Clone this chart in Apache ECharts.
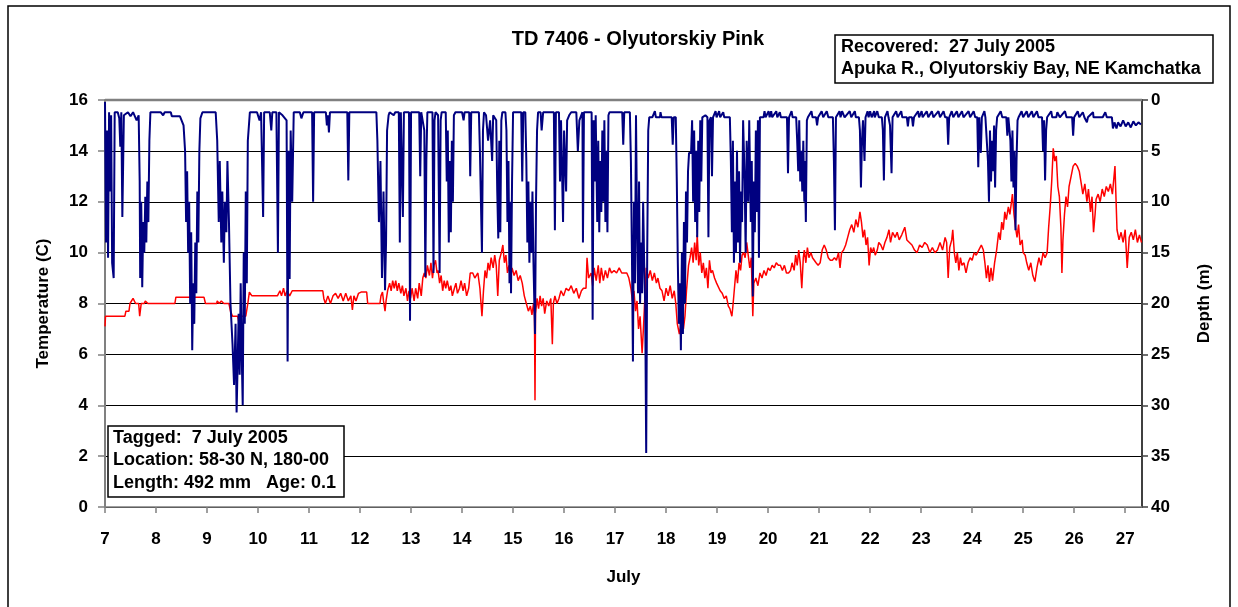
<!DOCTYPE html>
<html><head><meta charset="utf-8">
<script src="https://cdn.jsdelivr.net/npm/echarts@6/dist/echarts.min.js"></script>
<style>html,body{margin:0;padding:0;background:#fff}#c{width:1238px;height:607px}</style>
</head><body><div id="c"></div>
<script>
const titleText = 'TD 7406 - Olyutorskiy Pink';
const recoveredLines = ['Recovered:  27 July 2005', 'Apuka R., Olyutorskiy Bay, NE Kamchatka'];
const taggedLines = ['Tagged:  7 July 2005', 'Location: 58-30 N, 180-00', 'Length: 492 mm   Age: 0.1'];
const xAxisName = 'July';
const tempAxisName = 'Temperature (C)';
const depthAxisName = 'Depth (m)';

// [day of July, temperature C]
const tempPoints = [
[7.00,7.1],[7.01,7.5],[7.39,7.5],[7.41,7.7],[7.47,7.7],[7.49,8.0],[7.55,8.2],[7.60,8.0],[7.66,8.0],[7.68,7.5],[7.71,8.0],[7.77,8.0],[7.79,8.1],[7.84,8.0],
[8.37,8.0],[8.39,8.25],[8.94,8.25],[8.97,8.0],[9.19,8.0],[9.20,8.1],[9.24,8.0],[9.28,8.1],[9.33,8.0],[9.43,8.0],[9.46,7.7],[9.50,7.5],[9.60,7.5],[9.63,7.2],[9.66,7.5],[9.76,7.5],[9.80,8.0],[9.83,8.45],[9.88,8.3],
[10.38,8.3],[10.43,8.5],[10.46,8.3],[10.50,8.6],[10.53,8.3],[10.57,8.5],[10.62,8.3],[10.67,8.5],[11.27,8.5],[11.29,8.2],[11.32,8.0],[11.37,8.3],[11.42,8.0],[11.47,8.3],[11.52,8.4],[11.57,8.2],[11.62,8.4],[11.67,8.1],[11.72,8.4],[11.77,8.1],[11.82,8.3],[11.85,7.75],[11.88,8.3],[11.92,8.1],[11.97,8.4],
[12.02,8.45],[12.13,8.45],[12.15,8.0],[12.39,8.0],[12.41,8.3],[12.44,8.45],[12.46,8.1],[12.49,7.7],[12.51,8.1],[12.54,8.5],[12.58,8.8],[12.61,8.5],[12.64,8.9],[12.67,8.6],[12.70,8.9],[12.73,8.5],[12.76,8.8],[12.80,8.4],[12.83,8.7],[12.86,8.3],[12.90,8.6],[12.93,8.1],[12.96,8.5],[12.99,8.2],
[13.02,8.6],[13.06,8.1],[13.09,8.6],[13.13,8.2],[13.16,8.8],[13.20,8.3],[13.23,9.0],[13.26,9.2],[13.29,9.0],[13.32,9.5],[13.36,9.1],[13.39,9.6],[13.42,9.0],[13.45,9.5],[13.48,9.7],[13.51,9.2],[13.53,9.3],[13.56,8.8],[13.59,9.1],[13.62,8.5],[13.65,8.9],[13.68,8.6],[13.71,8.9],[13.75,8.5],[13.78,8.7],[13.81,8.3],[13.85,8.6],[13.88,8.8],[13.91,8.4],[13.95,8.6],[13.98,8.9],
[14.02,8.5],[14.05,8.8],[14.09,8.3],[14.13,8.6],[14.16,9.2],[14.21,9.2],[14.25,9.0],[14.31,9.2],[14.35,8.6],[14.39,7.5],[14.42,8.5],[14.45,9.3],[14.48,9.0],[14.51,9.6],[14.54,9.3],[14.57,9.8],[14.61,9.4],[14.64,9.9],[14.67,9.5],[14.70,8.3],[14.73,9.7],[14.77,10.0],[14.80,10.3],[14.83,9.6],[14.86,9.9],[14.89,9.2],[14.92,9.5],[14.95,9.0],[14.98,9.4],
[15.02,9.1],[15.06,9.3],[15.10,8.9],[15.14,9.1],[15.18,8.8],[15.22,8.3],[15.26,8.0],[15.30,7.7],[15.34,7.9],[15.37,7.55],[15.40,8.0],[15.42,7.5],[15.43,4.2],[15.44,7.6],[15.47,8.2],[15.50,7.8],[15.53,8.3],[15.56,7.9],[15.59,8.2],[15.62,7.6],[15.66,8.1],[15.70,7.9],[15.74,8.2],[15.77,6.4],[15.79,8.0],[15.82,8.3],[15.86,8.0],[15.90,8.2],[15.94,8.5],[15.99,8.3],
[16.04,8.6],[16.09,8.5],[16.14,8.7],[16.19,8.4],[16.24,8.6],[16.29,8.2],[16.34,8.5],[16.38,8.6],[16.43,8.6],[16.45,9.8],[16.48,9.0],[16.53,9.2],[16.56,8.7],[16.59,9.4],[16.63,8.9],[16.67,9.5],[16.70,8.8],[16.73,9.4],[16.77,8.9],[16.81,9.3],[16.85,9.0],[16.89,9.4],[16.93,9.2],[16.98,9.3],
[17.03,9.2],[17.08,9.4],[17.13,9.2],[17.18,9.2],[17.23,9.2],[17.27,9.0],[17.31,8.6],[17.34,8.1],[17.37,8.5],[17.40,7.7],[17.43,8.1],[17.46,7.0],[17.49,7.5],[17.53,6.05],[17.56,7.2],[17.59,8.5],[17.61,9.4],[17.65,9.0],[17.69,9.3],[17.73,8.9],[17.77,9.2],[17.81,8.8],[17.84,9.0],[17.88,8.6],[17.92,8.5],[17.96,8.1],
[18.00,8.6],[18.04,8.3],[18.08,8.7],[18.12,8.2],[18.16,8.5],[18.19,8.0],[18.22,7.2],[18.26,6.8],[18.30,7.3],[18.34,7.0],[18.37,7.5],[18.40,8.5],[18.44,9.5],[18.47,9.8],[18.50,10.2],[18.53,9.6],[18.56,10.4],[18.59,9.7],[18.61,10.7],[18.64,9.5],[18.67,10.0],[18.70,9.2],[18.73,9.6],[18.76,9.0],[18.79,9.4],[18.82,8.6],[18.85,9.7],[18.88,9.2],[18.91,9.3],[18.95,9.0],[18.99,8.8],
[19.02,8.8],[19.06,8.5],[19.10,8.4],[19.14,8.2],[19.18,8.3],[19.22,7.9],[19.25,7.8],[19.29,7.5],[19.31,7.9],[19.34,8.6],[19.37,9.3],[19.40,8.8],[19.43,9.6],[19.46,9.3],[19.49,9.9],[19.52,10.0],[19.55,9.8],[19.58,10.4],[19.61,9.9],[19.64,9.4],[19.67,9.8],[19.70,7.5],[19.72,8.8],[19.76,9.0],[19.80,8.7],[19.84,9.2],[19.88,9.0],[19.92,9.3],[19.96,9.1],
[20.00,9.4],[20.04,9.3],[20.08,9.5],[20.12,9.4],[20.16,9.6],[20.20,9.5],[20.24,9.5],[20.28,9.3],[20.32,9.5],[20.36,9.2],[20.40,9.2],[20.44,9.3],[20.47,9.6],[20.51,9.3],[20.54,9.9],[20.57,9.5],[20.60,10.1],[20.63,9.6],[20.66,8.6],[20.69,9.8],[20.71,10.1],[20.74,9.6],[20.77,10.2],[20.80,9.8],[20.84,10.0],[20.87,9.8],[20.90,9.8],[20.94,9.6],[20.98,9.5],
[21.02,9.6],[21.06,10.1],[21.10,10.3],[21.14,10.1],[21.18,9.8],[21.22,9.7],[21.26,9.7],[21.30,9.8],[21.34,9.7],[21.38,10.0],[21.41,9.4],[21.44,10.0],[21.48,10.1],[21.52,10.3],[21.56,10.6],[21.60,10.9],[21.64,11.1],[21.68,10.8],[21.72,11.3],[21.76,11.0],[21.80,11.6],[21.83,11.2],[21.86,10.6],[21.89,10.9],[21.92,10.3],[21.95,10.6],[21.98,9.5],
[22.01,10.2],[22.04,10.0],[22.07,10.2],[22.10,9.9],[22.14,10.1],[22.17,10.4],[22.21,10.3],[22.25,10.1],[22.29,10.4],[22.33,10.6],[22.37,10.9],[22.40,10.4],[22.44,10.8],[22.49,10.6],[22.53,10.8],[22.57,10.5],[22.62,10.7],[22.68,11.0],[22.72,10.5],[22.77,10.4],[22.82,10.3],[22.87,10.1],[22.92,10.0],[22.97,10.3],
[23.02,10.2],[23.07,10.4],[23.12,10.3],[23.17,10.0],[23.22,10.2],[23.27,10.0],[23.32,10.1],[23.37,10.4],[23.42,10.1],[23.47,10.6],[23.50,10.4],[23.53,9.0],[23.56,10.2],[23.60,10.5],[23.62,10.9],[23.65,10.0],[23.68,9.6],[23.71,10.0],[23.74,9.3],[23.77,9.8],[23.80,9.5],[23.84,9.6],[23.88,9.2],[23.92,9.6],[23.96,9.8],
[24.00,9.7],[24.04,10.0],[24.08,9.9],[24.13,10.1],[24.18,10.3],[24.22,10.1],[24.25,9.6],[24.28,9.0],[24.31,9.5],[24.34,8.85],[24.37,9.4],[24.40,8.9],[24.44,9.6],[24.48,10.1],[24.52,10.8],[24.55,10.5],[24.58,11.2],[24.61,10.9],[24.64,11.6],[24.67,11.3],[24.71,11.8],[24.74,11.5],[24.79,12.3],[24.82,11.5],[24.85,11.0],[24.88,10.6],[24.91,11.1],[24.94,10.3],[24.98,10.5],
[25.00,10.0],[25.04,9.9],[25.07,9.6],[25.11,9.3],[25.15,9.6],[25.19,9.1],[25.23,8.86],[25.27,9.4],[25.31,9.8],[25.35,9.5],[25.39,10.0],[25.43,9.8],[25.47,10.0],[25.50,11.0],[25.53,11.8],[25.56,12.8],[25.59,14.1],[25.62,13.6],[25.65,13.8],[25.68,12.6],[25.71,12.2],[25.74,11.0],[25.76,9.2],[25.78,10.5],[25.81,11.5],[25.84,12.2],[25.87,11.8],[25.90,12.6],[25.94,13.0],[25.98,13.4],
[26.02,13.5],[26.06,13.4],[26.10,13.2],[26.14,12.7],[26.17,12.3],[26.21,12.7],[26.25,12.0],[26.28,12.5],[26.32,11.6],[26.35,12.2],[26.38,10.8],[26.41,11.5],[26.43,12.1],[26.47,12.3],[26.51,12.0],[26.55,12.5],[26.59,12.2],[26.63,12.6],[26.67,12.4],[26.71,12.7],[26.75,12.3],[26.80,13.4],[26.84,10.9],[26.88,10.5],[26.92,10.8],[26.96,10.4],
[27.00,10.9],[27.04,9.4],[27.08,10.6],[27.12,10.8],[27.16,10.5],[27.20,10.9],[27.24,10.4],[27.28,10.7],[27.32,10.4]
];

// [day of July, depth m]
const depthPoints = [
[7.00,0.2],[7.02,14],[7.04,3],[7.06,15.5],[7.08,1.2],[7.10,9],[7.12,1.5],[7.14,16],[7.17,17.5],[7.19,1.2],[7.25,1.2],[7.28,1.8],[7.30,4.6],[7.32,1.2],[7.34,11.5],[7.37,1.5],[7.45,1.2],[7.50,1.6],[7.55,1.2],[7.62,2.0],[7.66,1.5],[7.68,8],
[7.69,17.5],[7.71,10],[7.73,18.4],[7.75,12],[7.77,15],[7.79,9.5],[7.81,14],[7.83,8],[7.85,12],[7.87,4],[7.89,1.2],[8.09,1.2],[8.14,1.5],[8.17,1.2],[8.29,1.2],[8.31,1.6],[8.47,1.6],[8.54,2.5],[8.57,5],[8.59,12],[8.61,7],[8.63,15],[8.65,10],[8.67,20],[8.69,13],[8.71,24.6],[8.73,18],[8.75,22],[8.77,14],[8.79,19],[8.81,9],[8.83,14],[8.85,5],[8.87,1.8],[8.91,1.2],[9.17,1.2],
[9.20,4],[9.23,12],[9.25,6],[9.28,14],[9.30,9],[9.33,16],[9.35,10],[9.38,13],[9.40,6],[9.43,12],[9.46,20],[9.50,24],[9.53,28],[9.56,22],[9.58,30.7],[9.60,26],[9.62,21],[9.64,27],[9.66,18],[9.68,25],[9.70,30],[9.72,15],[9.74,22],[9.76,9],[9.78,18],[9.80,4],[9.84,1.2],[9.98,1.2],
[10.03,2],[10.06,1.2],[10.10,11.5],[10.12,1.2],[10.23,1.2],[10.26,3],[10.28,1.2],[10.36,1.2],[10.39,15],[10.41,1.2],[10.48,1.5],[10.56,2],[10.58,25.7],[10.60,5],[10.62,17.6],[10.64,3],[10.67,10],[10.70,1.2],[10.82,1.2],[10.85,1.8],[10.89,1.2],
[11.06,1.2],[11.08,10],[11.10,1.2],[11.33,1.2],[11.35,2.5],[11.37,1.5],[11.39,3.2],[11.41,1.2],[11.75,1.2],[11.77,7.9],[11.79,1.2],
[12.32,1.2],[12.34,4],[12.37,12],[12.40,6],[12.43,17.5],[12.46,9],[12.49,18.7],[12.51,14],[12.53,3],[12.56,1.5],[12.58,1.2],[12.66,1.5],[12.69,1.2],[12.76,1.2],[12.78,14],[12.80,1.2],[12.84,11.5],[12.86,1.2],[12.96,1.2],[12.98,21.7],
[13.00,1.2],[13.16,1.2],[13.18,7.5],[13.20,1.2],[13.26,3],[13.28,17.4],[13.30,6],[13.32,1.2],[13.42,1.2],[13.44,17],[13.46,2],[13.48,1.2],[13.53,1.5],[13.56,17],[13.58,2],[13.60,1.2],[13.68,1.2],[13.70,8],[13.72,3],[13.74,14],[13.76,6],[13.78,13],[13.80,4],[13.82,10],[13.84,1.5],[13.87,1.2],
[14.00,1.2],[14.03,2],[14.05,1.2],[14.14,1.2],[14.16,7.5],[14.18,1.2],[14.33,1.2],[14.35,5],[14.37,10],[14.39,15],[14.41,3],[14.43,1.2],[14.47,1.5],[14.51,4],[14.55,2],[14.59,6],[14.61,1.5],[14.67,2],[14.69,9],[14.71,13.6],[14.73,4],[14.75,13],[14.77,2],[14.79,1.2],[14.85,1.2],[14.87,3],[14.89,12],[14.91,6],[14.93,18],[14.95,10],[14.96,19],[14.98,8],
[15.00,1.2],[15.16,1.2],[15.18,8],[15.20,1.2],[15.24,1.2],[15.26,6],[15.28,14],[15.30,8],[15.32,16],[15.34,10],[15.36,15],[15.38,9],[15.40,16],[15.43,23],[15.45,10],[15.47,3],[15.49,1.2],[15.54,1.2],[15.56,3],[15.59,1.2],[15.80,1.2],[15.82,12.8],[15.84,1.2],[15.90,1.2],[15.92,8],[15.94,2],[15.98,12],
[16.00,3],[16.04,9],[16.06,2],[16.10,1.5],[16.14,1.2],[16.24,1.2],[16.27,5],[16.30,2],[16.36,1.2],[16.37,14],[16.39,1.2],[16.54,1.2],[16.56,21.6],[16.58,2],[16.60,8],[16.62,1.5],[16.65,12],[16.67,4],[16.69,13],[16.71,6],[16.73,11],[16.75,3],[16.77,10],[16.79,2],[16.81,12],[16.83,5],[16.85,13],[16.87,1.5],[16.89,1.2],
[17.14,1.2],[17.16,4.4],[17.18,1.2],[17.29,1.2],[17.31,6],[17.33,15],[17.35,25.7],[17.37,10],[17.39,18],[17.41,1.5],[17.43,12],[17.45,19],[17.47,8],[17.49,20],[17.51,14],[17.53,19],[17.55,10],[17.57,16],[17.59,20],[17.61,34.7],[17.63,15],[17.65,3],[17.67,1.7],[17.73,1.7],[17.78,1.1],[17.80,1.7],[17.88,1.7],[17.89,1.2],[17.91,1.7],
[18.11,1.7],[18.13,4.4],[18.15,1.7],[18.19,1.7],[18.21,8],[18.23,16],[18.25,22],[18.27,18],[18.29,24.6],[18.31,15],[18.33,23],[18.35,12],[18.37,20],[18.39,9],[18.41,14],[18.43,7],[18.45,5.2],[18.49,5.2],[18.51,2],[18.53,10],[18.55,3],[18.57,12],[18.59,5],[18.61,13.5],[18.63,4],[18.65,11],[18.67,2],[18.69,8],[18.71,1.7],[18.77,1.5],[18.81,1.7],[18.83,13.5],[18.85,2],[18.88,1.7],[18.90,7.5],[18.92,1.7],[18.97,1.1],[18.99,1.7],
[19.04,1.1],[19.06,1.7],[19.12,1.2],[19.14,1.7],[19.25,1.7],[19.27,6],[19.29,13],[19.31,4],[19.33,16],[19.35,8],[19.37,15],[19.39,5],[19.41,14],[19.43,7],[19.45,16],[19.47,9],[19.49,12],[19.51,2],[19.54,8],[19.56,15],[19.58,4],[19.61,10],[19.63,2],[19.66,12],[19.68,6],[19.70,19.3],[19.72,8],[19.74,13],[19.76,3],[19.78,11],[19.80,2],[19.82,15.5],[19.84,1.7],[19.91,1.7],[19.93,1.1],[19.95,1.7],
[20.01,1.1],[20.03,1.7],[20.06,1.1],[20.08,1.7],[20.16,1.1],[20.18,1.7],[20.23,1.2],[20.25,1.7],[20.37,1.7],[20.39,7.2],[20.41,1.7],[20.46,1.1],[20.48,1.7],[20.55,1.7],[20.57,4],[20.59,7],[20.61,2],[20.63,8],[20.65,5],[20.67,9],[20.69,4],[20.71,10],[20.72,6],[20.74,12],[20.76,2],[20.78,1.7],[20.85,1.1],[20.87,1.7],[20.94,1.7],[20.96,2.5],[20.98,1.7],
[21.05,1.1],[21.08,1.7],[21.15,1.1],[21.18,1.7],[21.27,1.7],[21.29,6],[21.31,12.8],[21.33,1.7],[21.40,1.1],[21.42,1.7],[21.45,1.1],[21.50,1.7],[21.60,1.1],[21.63,1.7],[21.70,1.1],[21.72,1.7],[21.78,1.7],[21.80,3],[21.82,8.6],[21.84,4],[21.86,2],[21.89,6],[21.91,1.7],[21.95,1.1],[21.97,1.7],
[22.00,1.1],[22.03,1.7],[22.08,1.1],[22.09,1.7],[22.14,1.1],[22.17,1.7],[22.23,1.7],[22.25,3],[22.27,7.9],[22.29,1.7],[22.34,1.1],[22.36,1.7],[22.39,2.5],[22.42,7.2],[22.44,1.7],[22.51,1.1],[22.54,1.7],[22.61,1.1],[22.63,1.7],[22.72,1.7],[22.74,2.6],[22.76,1.7],[22.82,1.7],[22.84,2.6],[22.86,1.7],[22.94,1.1],[22.96,1.7],
[23.01,1.1],[23.03,1.7],[23.11,1.1],[23.14,1.7],[23.21,1.1],[23.24,1.7],[23.34,1.1],[23.37,1.7],[23.44,1.1],[23.47,1.7],[23.51,1.7],[23.53,4.4],[23.55,1.7],[23.60,1.1],[23.63,1.7],[23.70,1.1],[23.73,1.7],[23.80,1.1],[23.83,1.7],[23.93,1.1],[23.96,1.7],
[24.03,1.1],[24.06,1.7],[24.10,1.7],[24.12,6.6],[24.14,1.7],[24.17,5.2],[24.19,1.7],[24.24,1.1],[24.26,1.7],[24.29,1.7],[24.31,6],[24.33,10],[24.35,3],[24.37,8],[24.39,4],[24.41,7],[24.43,2.5],[24.45,8.6],[24.47,3],[24.49,1.7],[24.56,1.1],[24.59,1.7],[24.67,1.7],[24.69,3.5],[24.71,1.7],[24.75,4],[24.77,8],[24.79,3],[24.81,8.6],[24.83,5],[24.85,12.8],[24.87,6],[24.89,2],[24.91,1.7],[24.97,1.1],
[25.00,1.7],[25.07,1.1],[25.10,1.7],[25.17,1.1],[25.20,1.7],[25.27,1.1],[25.30,1.7],[25.37,1.7],[25.39,5],[25.41,2],[25.43,7.9],[25.45,3],[25.47,1.7],[25.55,1.1],[25.57,1.7],[25.65,1.7],[25.67,1.2],[25.72,1.7],[25.82,1.1],[25.85,1.7],[25.96,1.7],[25.98,3.5],
[26.00,1.7],[26.07,1.1],[26.10,1.7],[26.17,1.2],[26.20,1.7],[26.25,2.2],[26.27,1.7],[26.37,1.2],[26.38,1.7],[26.46,1.7],[26.56,1.7],[26.61,1.2],[26.64,1.7],[26.74,1.7],[26.76,2.8],[26.79,2.2],[26.83,2.8],[26.86,2.2],[26.91,2.6],[26.96,2.0],
[27.01,2.6],[27.06,2.2],[27.11,2.7],[27.16,2.1],[27.21,2.5],[27.26,2.2],[27.31,2.4]
];

const FONT = "'Liberation Sans', Arial, sans-serif";
const chart = echarts.init(document.getElementById('c'), null, {renderer: 'canvas'});

function boxText(lines, x, y0, dy) {
  return lines.map((t, i) => ({
    type: 'text', z: 100,
    style: {text: t, x: x, y: y0 + i * dy, textVerticalAlign: 'middle', fill: '#000', font: 'bold 18px ' + FONT}
  }));
}

const option = {
  animation: false,
  backgroundColor: '#fff',
  grid: {left: 105, right: 96, top: 100, bottom: 100, containLabel: false},
  xAxis: {
    type: 'value', min: 7, max: 27.33, interval: 1,
    name: xAxisName, nameLocation: 'middle', nameGap: 62,
    nameTextStyle: {fontFamily: FONT, fontWeight: 'bold', fontSize: 17, color: '#000'},
    axisLine: {lineStyle: {color: '#808080', width: 1.5}},
    axisTick: {show: true, inside: false, length: 6, lineStyle: {color: '#808080', width: 1.5}},
    axisLabel: {margin: 24, color: '#000', fontFamily: FONT, fontWeight: 'bold', fontSize: 17, showMaxLabel: false},
    splitLine: {show: false}
  },
  yAxis: [
    {
      type: 'value', min: 0, max: 16, interval: 2, position: 'left',
      name: tempAxisName, nameLocation: 'middle', nameGap: 53, nameRotate: 90,
      nameTextStyle: {fontFamily: FONT, fontWeight: 'bold', fontSize: 17, color: '#000'},
      axisLine: {show: true, lineStyle: {color: '#808080', width: 2}},
      axisTick: {show: true, inside: false, length: 7, lineStyle: {color: '#808080', width: 1.5}},
      axisLabel: {margin: 17, color: '#000', fontFamily: FONT, fontWeight: 'bold', fontSize: 17},
      splitLine: {show: true, lineStyle: {color: ['#000','#000','#000','#000','#000','#000','#000','#000','#808080'], width: 1.2}}
    },
    {
      type: 'value', min: 0, max: 40, interval: 5, position: 'right', inverse: true,
      name: depthAxisName, nameLocation: 'middle', nameGap: 54, nameRotate: 90,
      nameTextStyle: {fontFamily: FONT, fontWeight: 'bold', fontSize: 17, color: '#000'},
      axisLine: {show: true, lineStyle: {color: '#404040', width: 2}},
      axisTick: {show: true, inside: false, length: 6, lineStyle: {color: '#404040', width: 1.5}},
      axisLabel: {margin: 9, color: '#000', fontFamily: FONT, fontWeight: 'bold', fontSize: 17},
      splitLine: {show: false}
    }
  ],
  series: [
    {
      name: 'Temperature', type: 'line', yAxisIndex: 0, data: tempPoints,
      showSymbol: false, symbol: 'none', smooth: false,
      lineStyle: {color: '#ff0000', width: 1.5}, z: 2
    },
    {
      name: 'Depth', type: 'line', yAxisIndex: 1, data: depthPoints,
      showSymbol: false, symbol: 'none', smooth: false,
      lineStyle: {color: '#000080', width: 2}, z: 3
    }
  ],
  graphic: [
    {type: 'rect', shape: {x: 8, y: 6, width: 1222, height: 640}, style: {fill: 'none', stroke: '#000', lineWidth: 1.5}, z: 0, silent: true},
    {type: 'line', shape: {x1: 105, y1: 100, x2: 1142, y2: 100}, style: {stroke: '#808080', lineWidth: 2.5}, z: 50},
    {type: 'text', z: 100, style: {text: titleText, x: 638, y: 39, textAlign: 'center', textVerticalAlign: 'middle', fill: '#000', font: 'bold 20px ' + FONT}},
    {type: 'rect', z: 90, shape: {x: 835, y: 35, width: 378, height: 48}, style: {fill: '#fff', stroke: '#000', lineWidth: 1.5}},
    ...boxText(recoveredLines, 841, 47, 22),
    {type: 'rect', z: 90, shape: {x: 108, y: 426, width: 236, height: 71}, style: {fill: '#fff', stroke: '#000', lineWidth: 1.5}},
    ...boxText(taggedLines, 113, 438, 22.5)
  ]
};
chart.setOption(option);
</script>
</body></html>
